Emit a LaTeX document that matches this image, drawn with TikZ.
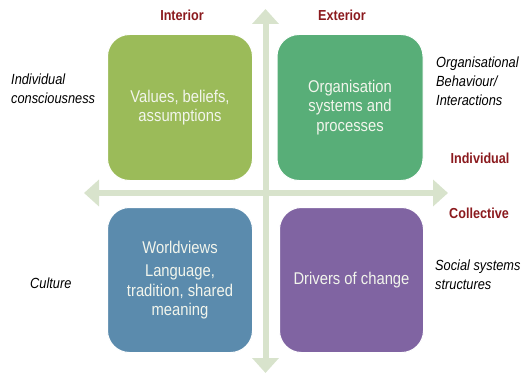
\documentclass[tikz,border=0pt]{standalone}
\usepackage{fontspec}
\setmainfont{Liberation Sans}
\newfontfamily\cfont[FakeStretch=0.87]{Liberation Sans}
\usetikzlibrary{arrows.meta}
\definecolor{cOlive}{HTML}{9BBB59}
\definecolor{cGreen}{HTML}{58AE78}
\definecolor{cBlue}{HTML}{5B8BAD}
\definecolor{cPurple}{HTML}{8064A2}
\definecolor{cAxis}{HTML}{D8E3CC}
\definecolor{cRed}{HTML}{8B1A1E}
\definecolor{cBoxText}{HTML}{F2F5EC}
\tikzset{
  quad/.style={rectangle, rounded corners=22pt, draw=white, line width=1pt, align=center,
    text=cBoxText, font=\cfont\fontsize{17}{19.5}\selectfont},
  axis/.style={cAxis, line width=6pt, -{Triangle[width=26pt,length=15pt]}},
  side/.style={align=left, anchor=west, font=\cfont\itshape\fontsize{14.7}{19}\selectfont, text=black, inner sep=0pt},
  head/.style={font=\cfont\bfseries\fontsize{14.5}{17}\selectfont, text=cRed, inner sep=0pt}
}
\begin{document}
\begin{tikzpicture}[x=1pt,y=-1pt]
\useasboundingbox (0,0) rectangle (526,374);
% axes
\coordinate (vtop) at (265.5,9);
\coordinate (vbot) at (265.5,373);
\coordinate (hleft) at (84,193);
\coordinate (hright) at (448,193);
\coordinate (ctr) at (265.5,193);
\draw[axis] (ctr) -- (vtop);
\draw[axis] (ctr) -- (vbot);
\draw[axis] (ctr) -- (hleft);
\draw[axis] (ctr) -- (hright);
% quadrants
\node[quad, fill=cOlive, minimum width=145pt, minimum height=146pt] (q1) at (180,107.5) {Values, beliefs,\\assumptions};
\node[quad, fill=cGreen, minimum width=146pt, minimum height=146pt] (q2) at (350,107.5) {Organisation\\systems and\\processes};
\node[quad, fill=cBlue, minimum width=145pt, minimum height=145pt] (q3) at (180,280) {Worldviews\\[4pt]Language,\\tradition, shared\\meaning};
\node[quad, fill=cPurple, minimum width=144pt, minimum height=145pt] (q4) at (351.5,280) {Drivers of change};
% headings
\node[head] (interior) at (182,15) {Interior};
\node[head] (exterior) at (342,15) {Exterior};
\node[head] (individual) at (480,158) {Individual};
\node[head] (collective) at (479,213) {Collective};
% side labels
\node[side] (indcons) at (11,89) {Individual\\consciousness};
\node[side] (orgbeh) at (436,81) {Organisational\\Behaviour/\\Interactions};
\node[side] (culture) at (30,283) {Culture};
\node[side] (social) at (435,275) {Social systems\\structures};
\end{tikzpicture}
\end{document}
